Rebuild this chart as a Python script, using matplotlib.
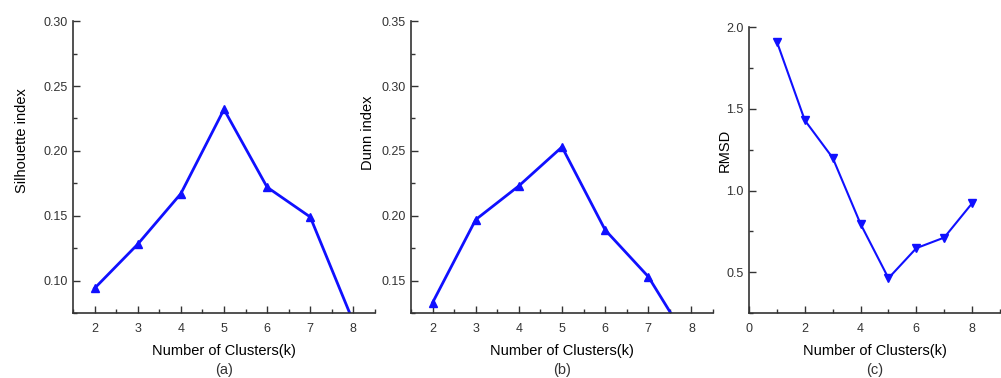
import numpy as np
import matplotlib.pyplot as plt
from matplotlib.ticker import MultipleLocator

plt.rcParams['font.family'] = ['Liberation Sans', 'DejaVu Sans']

# cluster counts
k_ab = [2, 3, 4, 5, 6, 7, 8]
k_c = [1, 2, 3, 4, 5, 6, 7, 8]

silhouette = [0.094, 0.128, 0.167, 0.232, 0.172, 0.149, 0.068]
dunn = [0.133, 0.197, 0.223, 0.253, 0.189, 0.153, 0.099]
rmsd = [1.91, 1.43, 1.20, 0.795, 0.463, 0.647, 0.712, 0.922]

blue = '#1010ff'
fig = plt.figure(figsize=(10.01, 3.78), dpi=100)

ax1 = fig.add_axes([0.0729, 0.172, 0.3017, 0.772])
ax2 = fig.add_axes([0.4106, 0.172, 0.3017, 0.772])
ax3 = fig.add_axes([0.7483, 0.172, 0.2507, 0.756])

ax1.plot(k_ab, silhouette, color=blue, lw=2, marker='^', ms=6)
ax2.plot(k_ab, dunn, color=blue, lw=2, marker='^', ms=6)
ax3.plot(k_c, rmsd, color=blue, lw=1.5, marker='v', ms=6)

ax1.set_xlim(1.5, 8.5)
ax1.set_ylim(0.075, 0.30)
ax1.set_yticks([0.10, 0.15, 0.20, 0.25, 0.30])
ax1.yaxis.set_minor_locator(MultipleLocator(0.025))
ax1.set_ylabel('Silhouette index', fontsize=10.5)
ax1.yaxis.set_label_coords(-0.146, 0.59)

ax2.set_xlim(1.5, 8.5)
ax2.set_ylim(0.125, 0.35)
ax2.set_yticks([0.15, 0.20, 0.25, 0.30, 0.35])
ax2.yaxis.set_minor_locator(MultipleLocator(0.025))
ax2.set_ylabel('Dunn index', fontsize=10.5)
ax2.yaxis.set_label_coords(-0.118, 0.617)

ax3.set_xlim(0, 9)
ax3.set_ylim(0.25, 2.0)
ax3.set_xticks([0, 2, 4, 6, 8])
ax3.xaxis.set_minor_locator(MultipleLocator(1))
ax3.set_yticks([0.5, 1.0, 1.5, 2.0])
ax3.yaxis.set_minor_locator(MultipleLocator(0.25))
ax3.set_ylabel('RMSD', fontsize=10.5)
ax3.yaxis.set_label_coords(-0.068, 0.57)

for ax in (ax1, ax2):
    ax.set_xticks([2, 3, 4, 5, 6, 7, 8])
    ax.xaxis.set_minor_locator(MultipleLocator(0.5))
    ax.yaxis.set_major_formatter(plt.FormatStrFormatter('%.2f'))

for ax, tag in zip((ax1, ax2, ax3), ['(a)', '(b)', '(c)']):
    for s in ('top', 'right'):
        ax.spines[s].set_visible(False)
    for s in ('left', 'bottom'):
        ax.spines[s].set_color('#333333')
        ax.spines[s].set_linewidth(1.2)
    ax.tick_params(which='major', direction='in', length=5, width=1, labelsize=9,
                   colors='#333333')
    ax.tick_params(axis='x', which='major', pad=7)
    ax.tick_params(axis='y', which='major', pad=4)
    ax.tick_params(which='minor', direction='in', length=3, width=1, colors='#333333')
    ax.set_xlabel('Number of Clusters(k)', fontsize=10.5, labelpad=7)
    # panel tag sits just under the x label
    ax.annotate(tag, xy=(0.5, 0), xycoords='axes fraction', xytext=(0, -57),
                textcoords='offset pixels', ha='center', va='center',
                fontsize=10.5, color='#333333')

plt.savefig('out.png', dpi=100)
